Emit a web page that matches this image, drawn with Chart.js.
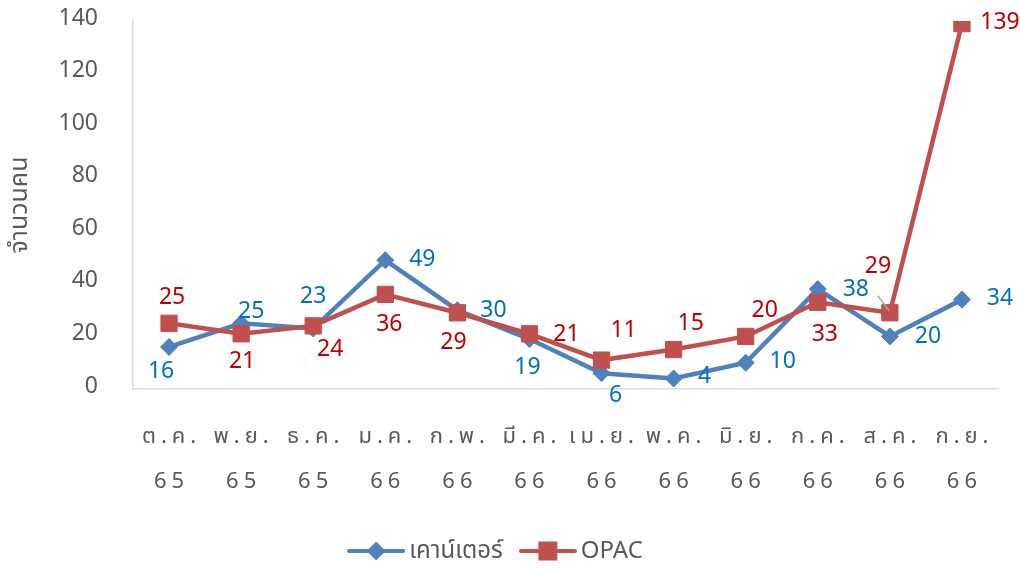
<!DOCTYPE html>
<html><head><meta charset="utf-8">
<script src="https://cdn.jsdelivr.net/npm/chart.js@4/dist/chart.umd.min.js"></script>
<style>html,body{margin:0;padding:0;background:#fff}#wrap{width:1020px;height:569px;position:relative}</style>
</head><body><div id="wrap"><canvas id="c" width="1020" height="569"></canvas></div>
<script>
// ---- data ----
const months = ['ต.ค.', 'พ.ย.', 'ธ.ค.', 'ม.ค.', 'ก.พ.', 'มี.ค.', 'เม.ย.', 'พ.ค.', 'มิ.ย.', 'ก.ค.', 'ส.ค.', 'ก.ย.'];
const years = ['65', '65', '65', '66', '66', '66', '66', '66', '66', '66', '66', '66'];
const seriesNames = ['เคาน์เตอร์', 'OPAC'];
const counterValues = [16, 25, 23, 49, 30, 19, 6, 4, 10, 38, 20, 34];
const opacValues = [25, 21, 24, 36, 29, 21, 11, 15, 20, 33, 29, 139];
const yTickValues = [0, 20, 40, 60, 80, 100, 120, 140];
const yTitle = 'จำนวนคน';

// ---- style ----
const FONT = '"Noto Sans", "Noto Sans Thai", "Leelawadee UI", Tahoma, sans-serif';
const TEXT_GRAY = '#595959';
const lineColors = ['#4F81BD', '#C0504D'];
const labelColors = ['#0070C0', '#C00000'];
// label offsets (px) relative to each point, per series
const labelOffsets = [
  [[-8, 25], [10, -12], [0, -32], [37, -1], [36, 0], [-2, 28], [14, 22], [31, -2], [37, -1], [38, 0], [38, 0], [38, -1]],
  [[3, -26], [1, 28], [17, 24], [4, 30], [-4, 30], [37, 1], [22, -30], [17, -26], [19, -26], [7, 32], [-12, -46], [38, -1]]
];
const leaderLines = [{ series: 1, index: 10, from: [-12, -17], to: [-1, -2] }];

function legendIcon(color, shape) {
  const c = document.createElement('canvas');
  c.width = 58; c.height = 24;
  const g = c.getContext('2d');
  g.strokeStyle = color; g.lineWidth = 4; g.lineCap = 'round';
  g.beginPath(); g.moveTo(2, 12); g.lineTo(56, 12); g.stroke();
  g.fillStyle = color;
  if (shape === 'diamond') {
    g.beginPath(); g.moveTo(29, 2.5); g.lineTo(38.5, 12); g.lineTo(29, 21.5); g.lineTo(19.5, 12); g.closePath(); g.fill();
  } else {
    g.fillRect(19.5, 2.5, 19, 19);
  }
  return c;
}
const legendIcons = [legendIcon(lineColors[0], 'diamond'), legendIcon(lineColors[1], 'square')];

const pointLabelPlugin = {
  id: 'pointLabels',
  afterDatasetsDraw(chart) {
    const ctx = chart.ctx;
    ctx.save();
    leaderLines.forEach(l => {
      const pt = chart.getDatasetMeta(l.series).data[l.index];
      ctx.strokeStyle = '#A6A6A6'; ctx.lineWidth = 1.5;
      ctx.beginPath();
      ctx.moveTo(pt.x + l.from[0], pt.y + l.from[1]);
      ctx.lineTo(pt.x + l.to[0], pt.y + l.to[1]);
      ctx.stroke();
    });
    ctx.font = '23px ' + FONT;
    ctx.textAlign = 'center'; ctx.textBaseline = 'middle';
    chart.data.datasets.forEach((ds, di) => {
      const meta = chart.getDatasetMeta(di);
      ctx.fillStyle = labelColors[di];
      meta.data.forEach((pt, i) => {
        const [dx, dy] = labelOffsets[di][i];
        ctx.fillText(String(ds.data[i]), pt.x + dx, pt.y + dy);
      });
    });
    ctx.restore();
  }
};

const spacedXLabels = {
  id: 'spacedXLabels',
  beforeDraw(chart) {
    const s = chart.scales.x;
    if (s && !s._spacedPatch) {
      const orig = s.drawLabels;
      s.drawLabels = function (area) {
        this.ctx.save();
        this.ctx.letterSpacing = '5px';
        this.ctx.translate(2.5, 0);
        orig.call(this, area);
        this.ctx.restore();
      };
      s._spacedPatch = true;
    }
  }
};

const categories = months.map((m, i) => [m, years[i]]);

new Chart(document.getElementById('c'), {
  type: 'line',
  data: {
    labels: categories,
    datasets: [
      {
        label: seriesNames[0], data: counterValues, order: 1,
        borderColor: lineColors[0], backgroundColor: lineColors[0], borderWidth: 4.5,
        pointStyle: 'rectRot', pointRadius: 8.5, pointHoverRadius: 8.5,
        pointBackgroundColor: lineColors[0], pointBorderColor: lineColors[0], pointBorderWidth: 1,
        tension: 0
      },
      {
        label: seriesNames[1], data: opacValues, order: 0,
        borderColor: lineColors[1], backgroundColor: lineColors[1], borderWidth: 4.5,
        pointStyle: 'rect', pointRadius: 11.5, pointHoverRadius: 11.5,
        pointBackgroundColor: lineColors[1], pointBorderColor: lineColors[1], pointBorderWidth: 1,
        tension: 0
      }
    ]
  },
  options: {
    responsive: false,
    animation: false,
    events: [],
    layout: { padding: { top: 21, right: 22, left: 0, bottom: -4 } },
    scales: {
      x: {
        offset: true,
        grid: { display: false, drawTicks: false },
        border: { display: true, color: '#D9D9D9', width: 1.5 },
        ticks: {
          color: TEXT_GRAY, font: { family: FONT, size: 22, lineHeight: '45px' },
          padding: 25, maxRotation: 0, autoSkip: false
        },
        afterFit(scale) { scale.height = 126; scale.paddingLeft = 0; scale.paddingRight = 0; }
      },
      y: {
        min: 0, max: 140,
        grid: { display: false, drawTicks: false },
        border: { display: true, color: '#D9D9D9', width: 1.5 },
        afterBuildTicks(scale) { scale.ticks = yTickValues.map(v => ({ value: v })); },
        ticks: { color: TEXT_GRAY, font: { family: FONT, size: 23 }, padding: 35, labelOffset: -3 },
        title: { display: true, text: yTitle, color: TEXT_GRAY, font: { family: FONT, size: 25 }, padding: { top: 5, bottom: 0 } },
        afterFit(scale) { scale.width = 133; scale.paddingTop = 0; scale.paddingBottom = 0; }
      }
    },
    plugins: {
      tooltip: { enabled: false },
      legend: {
        position: 'bottom',
        labels: {
          color: TEXT_GRAY, font: { family: FONT, size: 24 },
          usePointStyle: true, pointStyleWidth: 42, padding: 24,
          sort: (a, b) => a.datasetIndex - b.datasetIndex,
          generateLabels(chart) {
            const items = Chart.defaults.plugins.legend.labels.generateLabels(chart);
            items.forEach(it => { it.pointStyle = legendIcons[it.datasetIndex]; it.rotation = 0; });
            return items;
          }
        }
      }
    }
  },
  plugins: [pointLabelPlugin, spacedXLabels]
});
</script>
</body></html>
